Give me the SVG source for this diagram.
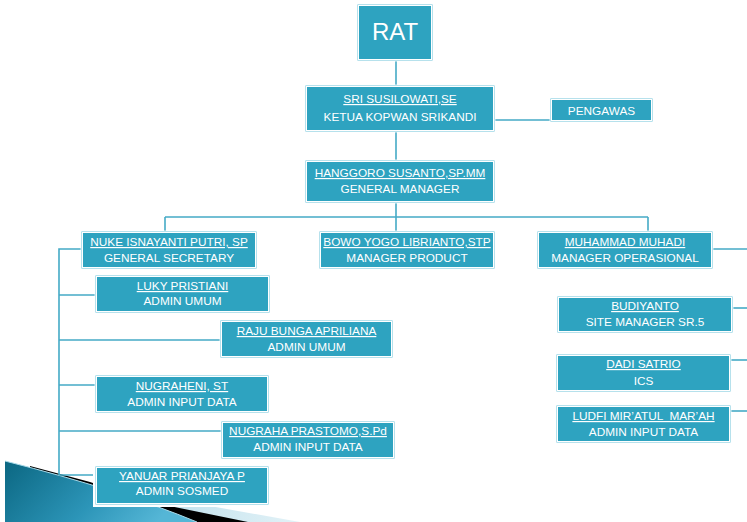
<svg xmlns="http://www.w3.org/2000/svg" width="747" height="522" viewBox="0 0 747 522">
<defs>
<style>
.bo{fill:#86cde0;stroke:#ffffff;stroke-width:0.8}
.bi{fill:#2ea3c0;stroke:#ffffff;stroke-width:1}
.t{font-family:"Liberation Sans",Arial,sans-serif;font-size:11.8px;fill:#ffffff;text-anchor:middle}
.u{text-decoration:underline}
.c{fill:none;stroke:#44aac6;stroke-width:1.6}
</style>
<linearGradient id="tealg" x1="0" y1="0" x2="1" y2="0.3">
<stop offset="0" stop-color="#0b6782"/>
<stop offset="0.6" stop-color="#2c95b8"/>
<stop offset="1" stop-color="#55b6d6"/>
</linearGradient>
<linearGradient id="lightg" x1="0" y1="0" x2="1" y2="0">
<stop offset="0" stop-color="#b5dcea"/>
<stop offset="1" stop-color="#e3f2f7"/>
</linearGradient>
</defs>
<rect width="747" height="522" fill="#ffffff"/>

<g id="decoration">
<polygon points="120,490 300,522 120,522" fill="url(#lightg)"/>
<polygon points="30,466 90,482 150,502 248,522 30,522" fill="#000000"/>
<path d="M5,461 Q120,490 197,522 L5,522 Z" fill="url(#tealg)"/>
<path d="M5,461 Q120,490 197,522" fill="none" stroke="#a9dbea" stroke-width="1"/>
</g>

<g id="connectors">
<path class="c" d="M396,61 V85"/>
<path class="c" d="M495,120 H550"/>
<path class="c" d="M396,132 V160"/>
<path class="c" d="M396,203 V217"/>
<path class="c" d="M165,217 H648"/>
<path class="c" d="M165,217 V231"/>
<path class="c" d="M396,217 V231"/>
<path class="c" d="M648,217 V231"/>
<path class="c" d="M713,249 H747"/>
<path class="c" d="M733,308 H747"/>
<path class="c" d="M731,360 H747"/>
<path class="c" d="M731,411 H747"/>
<path class="c" d="M81,249 H59 V475"/>
<path class="c" d="M59,295 H95"/>
<path class="c" d="M59,340 H220"/>
<path class="c" d="M59,385 H95"/>
<path class="c" d="M59,431 H221"/>
<path class="c" d="M59,475 H95"/>
</g>

<g id="rat">
<rect class="bo" x="357" y="4" width="76" height="57"/>
<rect class="bi" x="358.5" y="5.5" width="73" height="54"/>
<text x="395" y="40" style="font-family:'Liberation Sans',Arial,sans-serif;font-size:24px;fill:#ffffff;text-anchor:middle">RAT</text>
</g>

<g id="sri">
<rect class="bo" x="305" y="85" width="190" height="47"/>
<rect class="bi" x="306.5" y="86.5" width="187" height="44"/>
<text class="t u" x="400" y="103">SRI SUSILOWATI,SE</text>
<text class="t" x="400" y="121">KETUA KOPWAN SRIKANDI</text>
</g>

<g id="pengawas">
<rect class="bo" x="550" y="98" width="103" height="24"/>
<rect class="bi" x="551.5" y="99.5" width="100" height="21"/>
<text class="t" x="601.5" y="114.5">PENGAWAS</text>
</g>

<g id="hanggoro">
<rect class="bo" x="305" y="160" width="190" height="43"/>
<rect class="bi" x="306.5" y="161.5" width="187" height="40"/>
<text class="t u" x="400" y="177">HANGGORO SUSANTO,SP.MM</text>
<text class="t" x="400" y="193">GENERAL MANAGER</text>
</g>

<g id="nuke">
<rect class="bo" x="81" y="231" width="176" height="38"/>
<rect class="bi" x="82.5" y="232.5" width="173" height="35"/>
<text class="t u" x="169" y="246">NUKE ISNAYANTI PUTRI, SP</text>
<text class="t" x="169" y="262">GENERAL SECRETARY</text>
</g>

<g id="bowo">
<rect class="bo" x="319" y="231" width="176" height="38"/>
<rect class="bi" x="320.5" y="232.5" width="173" height="35"/>
<text class="t u" x="407" y="246">BOWO YOGO LIBRIANTO,STP</text>
<text class="t" x="407" y="262">MANAGER PRODUCT</text>
</g>

<g id="muhammad">
<rect class="bo" x="537" y="231" width="176" height="38"/>
<rect class="bi" x="538.5" y="232.5" width="173" height="35"/>
<text class="t u" x="625" y="246">MUHAMMAD MUHADI</text>
<text class="t" x="625" y="262">MANAGER OPERASIONAL</text>
</g>

<g id="luky">
<rect class="bo" x="95" y="275" width="175" height="38"/>
<rect class="bi" x="96.5" y="276.5" width="172" height="35"/>
<text class="t u" x="182.5" y="290">LUKY PRISTIANI</text>
<text class="t" x="182.5" y="305">ADMIN UMUM</text>
</g>

<g id="raju">
<rect class="bo" x="220" y="320" width="173" height="38"/>
<rect class="bi" x="221.5" y="321.5" width="170" height="35"/>
<text class="t u" x="306.5" y="335">RAJU BUNGA APRILIANA</text>
<text class="t" x="306.5" y="351">ADMIN UMUM</text>
</g>

<g id="nugraheni">
<rect class="bo" x="95" y="375" width="174" height="38"/>
<rect class="bi" x="96.5" y="376.5" width="171" height="35"/>
<text class="t u" x="182" y="390">NUGRAHENI, ST</text>
<text class="t" x="182" y="406">ADMIN INPUT DATA</text>
</g>

<g id="nugraha">
<rect class="bo" x="221" y="421" width="174" height="38"/>
<rect class="bi" x="222.5" y="422.5" width="171" height="35"/>
<text class="t u" x="308" y="435">NUGRAHA PRASTOMO,S.Pd</text>
<text class="t" x="308" y="451">ADMIN INPUT DATA</text>
</g>

<g id="yanuar">
<rect x="94" y="465" width="176" height="41" fill="none" stroke="#ffffff" stroke-width="2"/>
<rect class="bo" x="95" y="466" width="174" height="39"/>
<rect class="bi" x="96.5" y="467.5" width="171" height="36"/>
<text class="t u" x="182" y="480">YANUAR PRIANJAYA P</text>
<text class="t" x="182" y="495">ADMIN SOSMED</text>
</g>

<g id="budiyanto">
<rect class="bo" x="557" y="296" width="176" height="37"/>
<rect class="bi" x="558.5" y="297.5" width="173" height="34"/>
<text class="t u" x="645" y="310">BUDIYANTO</text>
<text class="t" x="645" y="326">SITE MANAGER SR.5</text>
</g>

<g id="dadi">
<rect class="bo" x="556" y="354" width="175" height="38"/>
<rect class="bi" x="557.5" y="355.5" width="172" height="35"/>
<text class="t u" x="643.5" y="368">DADI SATRIO</text>
<text class="t" x="643.5" y="385">ICS</text>
</g>

<g id="ludfi">
<rect class="bo" x="556" y="405" width="175" height="38"/>
<rect class="bi" x="557.5" y="406.5" width="172" height="35"/>
<text class="t u" x="643.5" y="420" style="white-space:pre">LUDFI MIR’ATUL  MAR’AH</text>
<text class="t" x="643.5" y="436">ADMIN INPUT DATA</text>
</g>
</svg>
